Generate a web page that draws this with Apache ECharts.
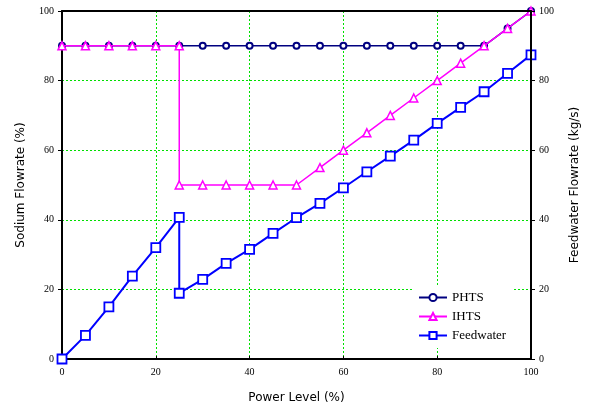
<!DOCTYPE html>
<html>
<head>
<meta charset="utf-8">
<script src="https://cdn.jsdelivr.net/npm/echarts@6/dist/echarts.min.js"></script>
<style>html,body{margin:0;padding:0;background:#fff;}#c{width:589px;height:414px;}</style>
</head>
<body>
<div id="c"></div>
<script>
const axisTicks = [0, 20, 40, 60, 80, 100];
const phtsPower = [0,5,10,15,20,25,30,35,40,45,50,55,60,65,70,75,80,85,90,95,100];
const phtsFlow  = [90,90,90,90,90,90,90,90,90,90,90,90,90,90,90,90,90,90,90,95,100];
const ihtsPower = [0,5,10,15,20,25,25,30,35,40,45,50,55,60,65,70,75,80,85,90,95,100];
const ihtsFlow  = [90,90,90,90,90,90,50,50,50,50,50,50,55,60,65,70,75,80,85,90,95,100];
const fwPower   = [0,5,10,15,20,25,25,30,35,40,45,50,55,60,65,70,75,80,85,90,95,100];
const fwFlow    = [0,6.8,15,23.8,32,40.7,18.9,22.9,27.5,31.5,36.1,40.6,44.7,49.2,53.8,58.3,62.9,67.7,72.3,76.8,82.1,87.4];

const pairs = (xs, ys) => xs.map((x, i) => [x, ys[i]]);
const serif = 'Liberation Serif';
const sans = 'DejaVu Sans';
const gridLine = {show: true, showMinLine: false, showMaxLine: false,
  lineStyle: {color: '#00e000', type: [2, 2], width: 1}};

const chart = echarts.init(document.getElementById('c'));
chart.setOption({
  animation: false,
  backgroundColor: '#fff',
  grid: {left: 62, right: 54, top: 11, bottom: 55},
  legend: {
    orient: 'vertical', left: 414, top: 285, backgroundColor: '#fff',
    padding: [6, 6, 6, 4], itemGap: 6, itemWidth: 28, itemHeight: 9,
    textStyle: {fontFamily: serif, fontSize: 13, color: '#000'},
    data: ['PHTS', 'IHTS', 'Feedwater']
  },
  xAxis: [{
    type: 'value', min: 0, max: 100, interval: 20,
    name: 'Power Level (%)', nameLocation: 'middle', nameGap: 33,
    nameTextStyle: {fontFamily: sans, fontSize: 12, color: '#000'},
    axisLine: {show: true, lineStyle: {color: '#000', width: 2}},
    axisTick: {show: true, inside: true, length: 3, lineStyle: {color: '#000'}},
    axisLabel: {fontFamily: serif, fontSize: 10, color: '#000', margin: 8,
      formatter: v => axisTicks.includes(v) ? String(v) : ''},
    splitLine: gridLine
  }, {
    type: 'value', position: 'top', min: 0, max: 100, interval: 20, z: 5,
    axisLine: {show: true, onZero: false, lineStyle: {color: '#000', width: 2}},
    axisTick: {show: false}, axisLabel: {show: false}, splitLine: {show: false}
  }],
  yAxis: [{
    type: 'value', min: 0, max: 100, interval: 20,
    name: 'Sodium Flowrate (%)', nameLocation: 'middle', nameGap: 35,
    nameTextStyle: {fontFamily: sans, fontSize: 12, color: '#000'},
    axisLine: {show: true, lineStyle: {color: '#000', width: 2}},
    axisTick: {show: true, length: 4, lineStyle: {color: '#000'}},
    axisLabel: {fontFamily: serif, fontSize: 10, color: '#000', margin: 8},
    splitLine: gridLine
  }, {
    type: 'value', position: 'right', min: 0, max: 100, interval: 20, z: 5,
    name: 'Feedwater Flowrate (kg/s)', nameLocation: 'middle', nameGap: 38,
    nameRotate: 90,
    nameTextStyle: {fontFamily: sans, fontSize: 12, color: '#000'},
    axisLine: {show: true, onZero: false, lineStyle: {color: '#000', width: 2}},
    axisTick: {show: true, length: 4, lineStyle: {color: '#000'}},
    axisLabel: {fontFamily: serif, fontSize: 10, color: '#000', margin: 8},
    splitLine: {show: false}
  }],
  series: [{
    name: 'PHTS', type: 'line', data: pairs(phtsPower, phtsFlow),
    symbol: 'emptyCircle', symbolSize: 6, showAllSymbol: true,
    itemStyle: {color: '#000080', borderWidth: 1.5},
    lineStyle: {color: '#000080', width: 1.5}, z: 2
  }, {
    name: 'IHTS', type: 'line', data: pairs(ihtsPower, ihtsFlow),
    symbol: 'triangle', symbolSize: 8, showAllSymbol: true,
    itemStyle: {color: '#fff', borderColor: '#ff00ff', borderWidth: 1.5},
    lineStyle: {color: '#ff00ff', width: 1.5}, z: 3
  }, {
    name: 'Feedwater', type: 'line', yAxisIndex: 1, data: pairs(fwPower, fwFlow),
    symbol: 'rect', symbolSize: 9, showAllSymbol: true,
    itemStyle: {color: '#fff', borderColor: '#0000ff', borderWidth: 1.8},
    lineStyle: {color: '#0000ff', width: 2}, z: 4
  }]
});
</script>
</body>
</html>
